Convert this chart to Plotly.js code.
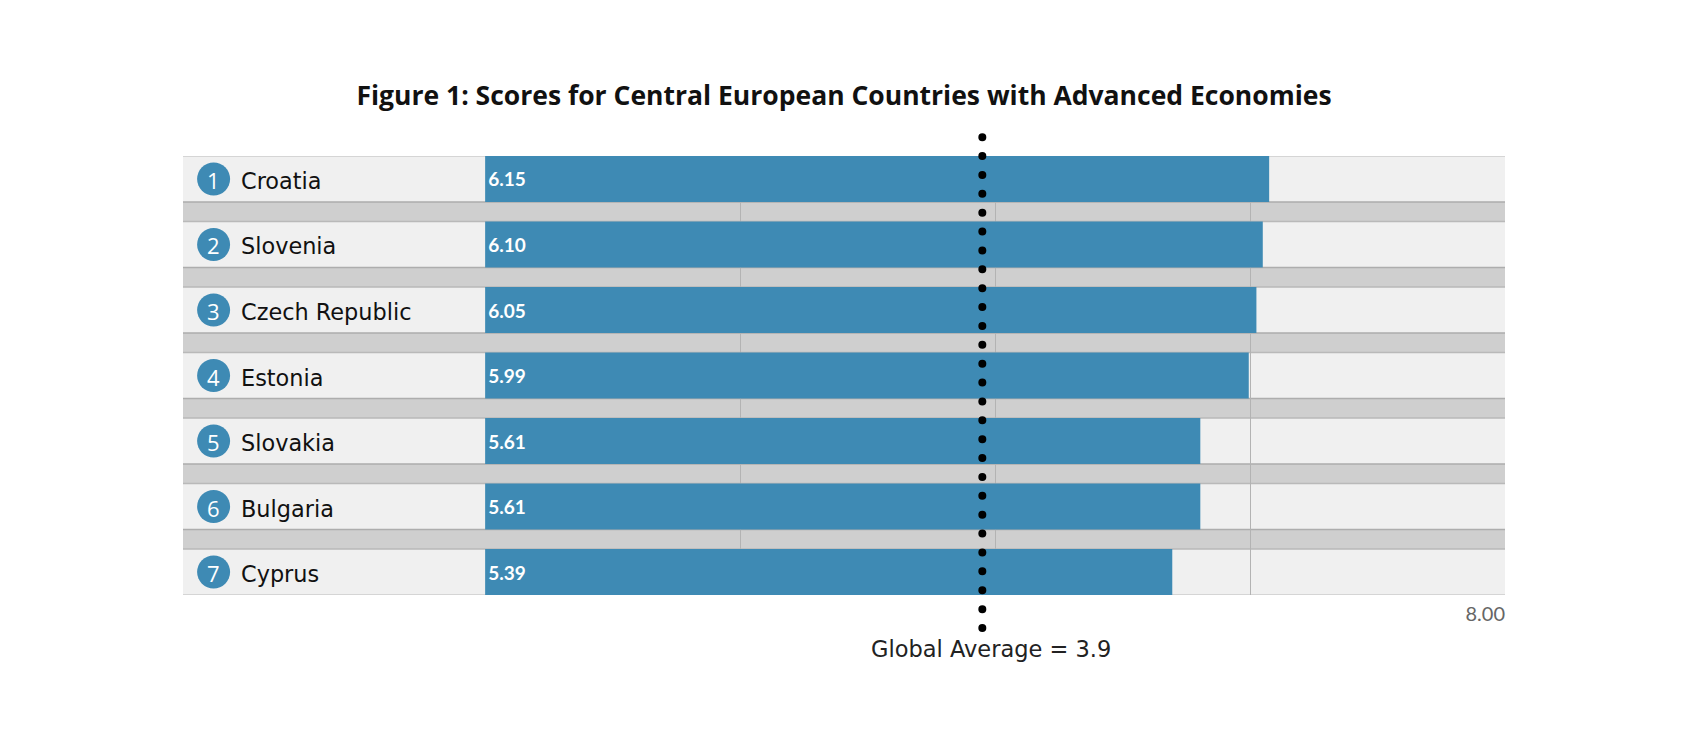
<!DOCTYPE html>
<html>
<head>
<meta charset="utf-8">
<script src="https://cdn.plot.ly/plotly-3.0.1.min.js"></script>
<style>
  html, body { margin: 0; padding: 0; background: #ffffff; }
  #chart { width: 1697px; height: 750px; }
</style>
</head>
<body>
<div id="chart"></div>
<script>
"use strict";

// --- data ---
const ranks = ['1', '2', '3', '4', '5', '6', '7'];
const countries = ['Croatia', 'Slovenia', 'Czech Republic', 'Estonia', 'Slovakia', 'Bulgaria', 'Cyprus'];
const scores = [6.15, 6.10, 6.05, 5.99, 5.61, 5.61, 5.39];
const globalAverage = 3.9;
const scaleTicks = [2, 4, 6, 8];
const scaleTickText = ['', '', '', '8.00'];

// --- look ---
const barBlue = '#3e8ab4';
const rowColor = '#f0f0f0';
const gapColor = '#cfcfcf';
const valueFont = 'Lato, "Open Sans", sans-serif';
const labelFont = '"DejaVu Sans", "Open Sans", sans-serif';
const titleFont = '"Open Sans", Lato, sans-serif';

const rowHalf = 0.351;          // half the row height, in row units
const labelStart = -2.37;       // left edge of the label column, in score units
const badgeX = -2.13;
const nameX = -1.93;

const rowIdx = countries.map((c, i) => i);

// row backgrounds and the border lines between rows and gaps
const shapes = [];
rowIdx.forEach(i => {
    shapes.push({
        type: 'rect', layer: 'below', xref: 'paper', yref: 'y',
        x0: 0, x1: 1, y0: i - rowHalf, y1: i + rowHalf,
        fillcolor: rowColor, line: { width: 0 }
    });
});
rowIdx.forEach(i => {
    const edgeTop = i === 0 ? '#cdcdcd' : '#b9b9b9';
    const edgeBottom = i === rowIdx.length - 1 ? '#cdcdcd' : '#adadad';
    shapes.push({ type: 'line', layer: 'below', xref: 'paper', yref: 'y', x0: 0, x1: 1,
        y0: i - rowHalf, y1: i - rowHalf, line: { color: edgeTop, width: 1.5 } });
    shapes.push({ type: 'line', layer: 'below', xref: 'paper', yref: 'y', x0: 0, x1: 1,
        y0: i + rowHalf, y1: i + rowHalf, line: { color: edgeBottom, width: 1.5 } });
});
// dotted global average line
const avgShapeIndex = shapes.length;
shapes.push({
    type: 'line', layer: 'above', xref: 'x', yref: 'paper',
    x0: globalAverage, x1: globalAverage, y0: -0.0752, y1: 1.0444,
    line: { color: '#000000', width: 8, dash: '8px,11px' }
});

// country names and the rank numbers inside the badges
const annotations = countries.map((name, i) => ({
    xref: 'x', yref: 'y', x: nameX, y: i, yshift: -2,
    xanchor: 'left', yanchor: 'middle', showarrow: false,
    text: name,
    font: { family: labelFont, size: 22.4, color: '#111111' }
}));
ranks.forEach((r, i) => {
    annotations.push({
        xref: 'x', yref: 'y', x: badgeX, y: i, yshift: -1,
        xanchor: 'center', yanchor: 'middle', showarrow: false,
        text: r,
        font: { family: titleFont, size: 22, color: '#ffffff' }
    });
});
annotations.push({
    xref: 'x', yref: 'paper', x: globalAverage, y: -0.123, xshift: 9,
    xanchor: 'center', yanchor: 'middle', showarrow: false,
    text: 'Global Average = ' + globalAverage,
    font: { family: labelFont, size: 22.5, color: '#222222' }
});

const barTrace = {
    type: 'bar',
    orientation: 'h',
    x: scores,
    y: rowIdx,
    base: 0,
    width: rowHalf * 2,
    marker: { color: barBlue, line: { width: 0 } },
    text: scores.map(v => v.toFixed(2)),
    textposition: 'inside',
    insidetextanchor: 'start',
    textangle: 0,
    constraintext: 'none',
    insidetextfont: { family: valueFont, size: 19, color: '#ffffff', weight: 'bold' },
    hoverinfo: 'skip'
};

const badgeTrace = {
    type: 'scatter',
    mode: 'markers',
    x: rowIdx.map(() => badgeX),
    y: rowIdx,
    marker: { size: 33, color: barBlue, line: { width: 0 } },
    cliponaxis: false,
    hoverinfo: 'skip'
};

const layout = {
    width: 1697,
    height: 750,
    margin: { l: 183, r: 192, t: 156, b: 155 },
    paper_bgcolor: '#ffffff',
    plot_bgcolor: gapColor,
    showlegend: false,
    title: {
        text: '<b>Figure 1: Scores for Central European Countries with Advanced Economies</b>',
        x: 0.5, xref: 'paper', xanchor: 'center',
        y: 0.872, yref: 'container', yanchor: 'middle',
        font: { family: titleFont, size: 26.5, color: '#111111' }
    },
    xaxis: {
        range: [labelStart, 8],
        tickvals: scaleTicks,
        ticktext: scaleTickText,
        ticks: '',
        ticklabelposition: 'outside left',
        ticklabelstandoff: 5,
        tickfont: { family: valueFont, size: 20, color: '#666666' },
        showgrid: true,
        gridcolor: '#b3b3b3',
        gridwidth: 1,
        zeroline: false,
        showline: false,
        fixedrange: true
    },
    yaxis: {
        range: [6 + rowHalf, -rowHalf],
        showticklabels: false,
        showgrid: false,
        zeroline: false,
        showline: false,
        ticks: '',
        fixedrange: true
    },
    shapes: shapes,
    annotations: annotations,
    hovermode: false
};

Plotly.newPlot('chart', [barTrace, badgeTrace], layout, { displayModeBar: false, staticPlot: true })
    .then(gd => {
        // turn the dashes of the average line into round dots
        gd.querySelectorAll('.shapelayer path[data-index="' + avgShapeIndex + '"]').forEach(p => {
            p.style.strokeDasharray = '0 18.88';
            p.style.strokeLinecap = 'round';
        });
    });
</script>
</body>
</html>
